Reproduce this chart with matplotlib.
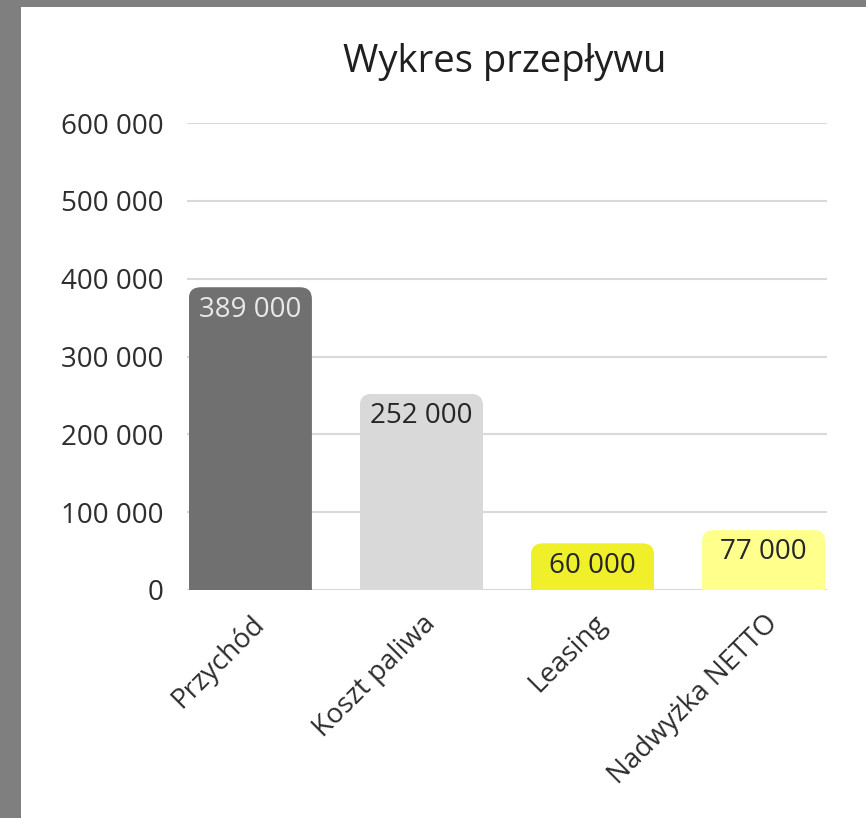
import matplotlib.pyplot as plt
from matplotlib.patches import Rectangle, FancyBboxPatch

plt.rcParams['font.family'] = ['Open Sans', 'DejaVu Sans']

# dane
categories = ['Przychód', 'Koszt paliwa', 'Leasing', 'Nadwyżka NETTO']
values = [389000, 252000, 60000, 77000]
colors = ['#707070', '#d9d9d9', '#efef2a', '#ffff8c']
label_colors = ['#e8e8e8', '#262626', '#262626', '#262626']
yticks = [0, 100000, 200000, 300000, 400000, 500000, 600000]


def fmt(v):
    return f'{v:,}'.replace(',', ' ')


W, H = 866, 818
fig = plt.figure(figsize=(W / 100, H / 100), dpi=100, facecolor='#7f7f7f')
fig.patches.append(Rectangle((21 / W, 0), 1 - 21 / W, 1 - 7 / H,
                             transform=fig.transFigure, facecolor='white',
                             edgecolor='none', zorder=-5))

left, right, top, bottom = 187, 827, 123, 590
ax = fig.add_axes([left / W, 1 - bottom / H, (right - left) / W, (bottom - top) / H])
ax.set_facecolor('none')
ax.set_xlim(-0.37, 3.37)
ax.set_ylim(0, 600000)

bars = ax.bar(range(len(values)), values, width=0.72, color=colors, zorder=2)

# zaokrąglone górne rogi
px_x = (right - left) / (3.37 + 0.37)
px_y = (bottom - top) / 600000
r_px = 12
for b in bars:
    x0, w, h = b.get_x(), b.get_width(), b.get_height()
    clip = FancyBboxPatch((x0, -r_px / px_y), w, h + r_px / px_y,
                          boxstyle=f'round,pad=0,rounding_size={r_px / px_x}',
                          mutation_aspect=px_x / px_y, transform=ax.transData)
    b.set_clip_path(clip)

for i, v in enumerate(values):
    ax.annotate(fmt(v), (i, v), xytext=(0, -6), textcoords='offset points',
                ha='center', va='top', fontsize=20, color=label_colors[i], zorder=3)

ax.set_yticks(yticks)
ax.set_yticklabels([fmt(t) for t in yticks], fontsize=20, color='#2e2e2e')
ax.set_xticks(range(len(categories)))
ax.set_xticklabels(categories, rotation=45, ha='right', rotation_mode='anchor',
                   fontsize=20, color='#2e2e2e')
ax.tick_params(length=0)
ax.tick_params(axis='y', pad=17)
ax.tick_params(axis='x', pad=14)
ax.grid(axis='y', color='#d9d9d9', linewidth=1.5, zorder=0)
ax.set_axisbelow(True)
for s in ax.spines.values():
    s.set_visible(False)

fig.text(505 / W, 1 - 62 / H, 'Wykres przepływu', ha='center', va='center',
         fontsize=27.5, color='#1f1f1f')

fig.savefig('out.png', dpi=100, facecolor=fig.get_facecolor())
